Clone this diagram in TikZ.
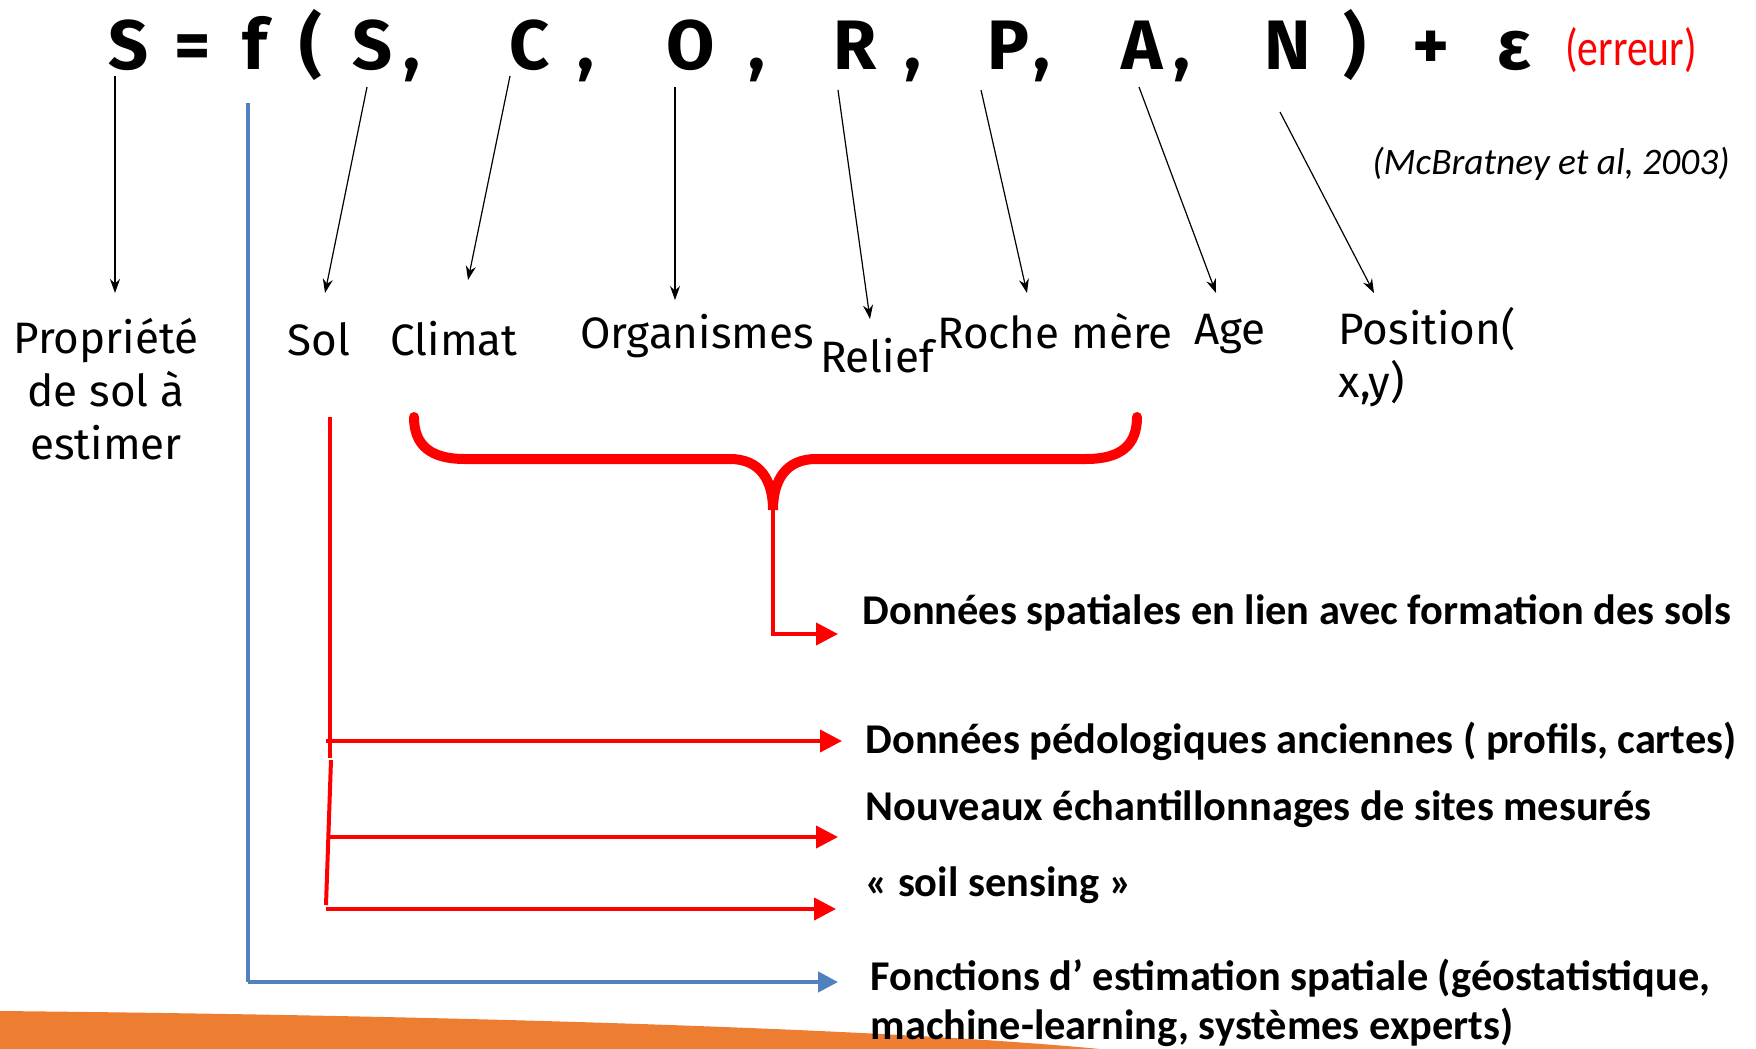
\documentclass[tikz,border=0pt]{standalone}
\usepackage{fontspec}
\setmainfont{Carlito}
\newfontfamily\comic{Fira Sans}
\newfontfamily\etroit[FakeStretch=0.8]{Carlito}
\usetikzlibrary{arrows.meta}
\definecolor{bleuligne}{RGB}{79,129,189}
\definecolor{orangebas}{RGB}{237,125,49}

\begin{document}
\begin{tikzpicture}[x=0.5pt, y=-0.5pt, >={Stealth[length=7pt,width=5pt]}, line width=0.6pt,
  formule/.style={anchor=base, inner sep=0, font=\comic\bfseries\fontsize{35}{40}\selectfont},
  etiq/.style={inner sep=0, align=center, font=\comic\fontsize{22}{26.5}\selectfont},
  texte/.style={anchor=west, inner sep=0, align=left, font=\bfseries\fontsize{21.2}{24.5}\selectfont},
  flecherouge/.style={red, line width=2pt, -{Triangle[length=11pt,width=11pt]}},
  flechebleue/.style={bleuligne, line width=2.2pt, -{Triangle[length=10pt,width=10pt]}},
  accol/.style={red, line width=5pt, line cap=round}]
  \useasboundingbox (0,0) rectangle (1756,1049);
  % bande orange en bas
  \fill[orangebas] (0,1011) .. controls (500,1016) and (900,1030) .. (1100,1049) -- (0,1049) -- cycle;
  % la formule
  \foreach \x/\c [count=\i] in {129/S, 193/=, 255/f, 311/(, 373/S, 412/{,}, 530/C, 586/{,},
      691/O, 757/{,}, 855/R, 913/{,}, 1008/P, 1042/{,}, 1142/A, 1182/{,}, 1288/N, 1355/),
      1431/+, 1514/ε}
    \node[formule] (f\i) at (\x,69) {\c};
  \node[anchor=base, inner sep=0, red, font=\etroit\fontsize{26}{28}\selectfont] (err) at (1631,65) {(erreur)};
  \node[inner sep=0, font=\itshape\fontsize{18.7}{21}\selectfont] (ref) at (1551,164) {(McBratney et al, 2003)};
  % les facteurs
  \node[etiq] (prop) at (106,389) {Propriété\\de sol à\\estimer};
  \node[etiq] (sol) at (319,339) {Sol};
  \node[etiq] (climat) at (454,339) {Climat};
  \node[etiq] (orga) at (697,336) {Organismes};
  \node[etiq] (relief) at (877,356) {Relief};
  \node[etiq] (roche) at (1055,331) {Roche mère};
  \node[etiq] (age) at (1230,334) {Age};
  \node[etiq, anchor=west, align=left] (pos) at (1338,357) {Position(\\x,y)};
  % flèches de la formule vers les facteurs
  \foreach \n/\xa/\ya/\xb/\yb in {s/115/76/115/293, sol/367/87/325/293, cl/510/76/468/280,
      or/675/87/675/300, re/838/90/870/319, ro/981/90/1027/293, ag/1139/87/1216/293,
      po/1280/112/1374/293} {
    \coordinate (h\n) at (\xa,\ya);
    \coordinate (b\n) at (\xb,\yb);
    \draw[->] (h\n) -- (b\n);
  }
  % accolade CORPA
  \coordinate (pointe) at (773,510);
  \draw[accol] (414,417) .. controls (414,445) and (430,459) .. (465,459) -- (730,459)
    .. controls (760,459) and (773,480) .. (pointe)
    .. controls (773,480) and (786,459) .. (816,459) -- (1086,459)
    .. controls (1121,459) and (1137,445) .. (1137,417);
  \coordinate (coin) at (773,634);
  \coordinate (fdsp) at (838,634);
  \draw[flecherouge] (pointe) -- (coin) -- (fdsp);
  % données de sol
  \coordinate (r1) at (330,417); \coordinate (r2) at (330,758);
  \coordinate (r3) at (331,760); \coordinate (r4) at (326,905);
  \draw[red, line width=2pt] (r1) -- (r2);
  \draw[red, line width=2pt] (r3) -- (r4);
  \coordinate (a1) at (326,741); \coordinate (e1) at (842,741);
  \coordinate (a2) at (330,837); \coordinate (e2) at (838,837);
  \coordinate (a3) at (326,909); \coordinate (e3) at (836,909);
  \draw[flecherouge] (a1) -- (e1);
  \draw[flecherouge] (a2) -- (e2);
  \draw[flecherouge] (a3) -- (e3);
  % fonction f
  \coordinate (bh) at (248,103); \coordinate (bc) at (248,982); \coordinate (bf) at (838,982);
  \draw[bleuligne, line width=1.6pt] (bh) -- (bc);
  \draw[flechebleue] (bc) -- (bf);
  % textes de droite
  \node[texte] (dsp) at (862,613) {Données spatiales en lien avec formation des sols};
  \node[texte] (dped) at (865,741) {Données pédologiques anciennes ( profils, cartes)};
  \node[texte] (nouv) at (865,809) {Nouveaux échantillonnages de sites mesurés};
  \node[texte] (sens) at (865,885) {« soil sensing »};
  \node[texte] (fct) at (870,1003) {Fonctions d’ estimation spatiale (géostatistique,\\machine-learning, systèmes experts)};
\end{tikzpicture}
\end{document}
